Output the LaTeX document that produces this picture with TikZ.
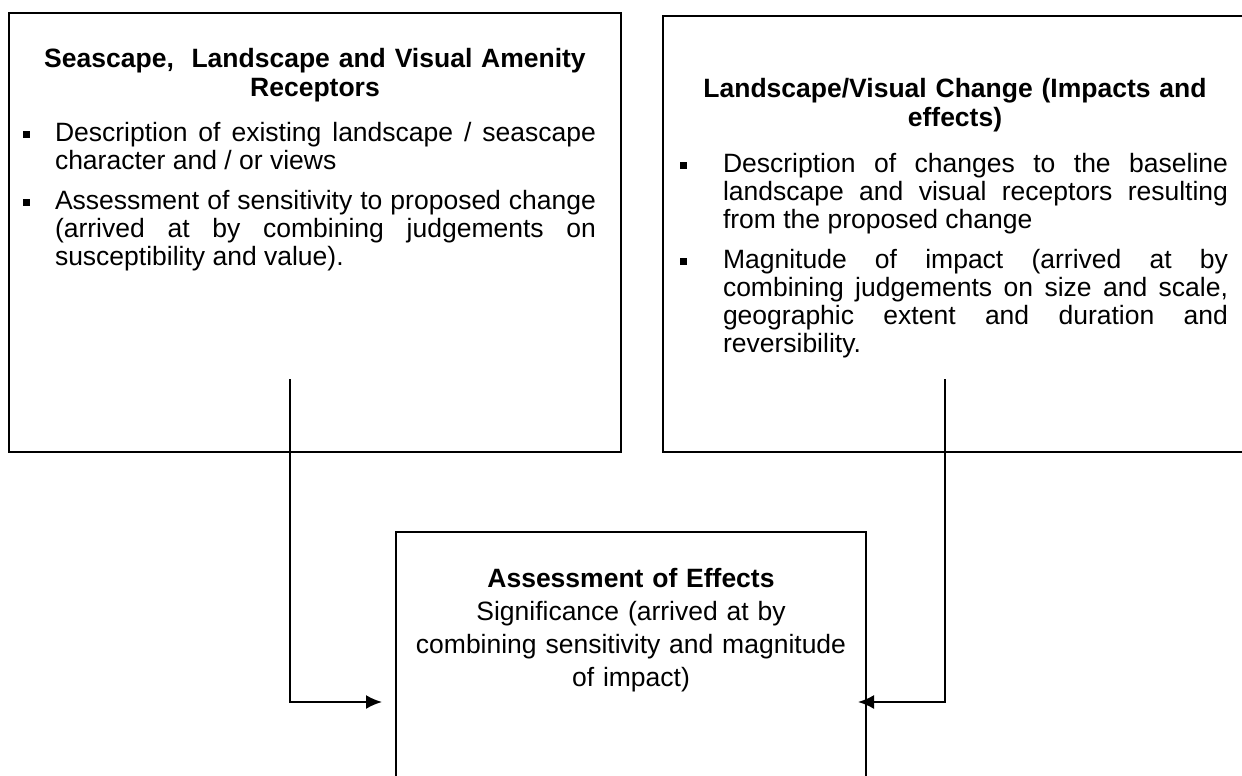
\documentclass[tikz,border=0pt]{standalone}
\usepackage{fontspec}
\setmainfont{Liberation Sans}
\usetikzlibrary{positioning,calc,arrows.meta}
\tikzset{>={Latex[length=8pt,width=7pt]}}
\hyphenpenalty=10000
\exhyphenpenalty=10000
\tolerance=9999
\newcommand{\sqitem}[1][12.5pt]{\noindent\llap{\rule[1.7pt]{3.6pt}{3.6pt}\hspace{#1}}\ignorespaces}
\tikzset{
    panel/.style={draw, line width=1.4pt, anchor=north west, inner sep=0pt, outer sep=0pt},
    heading/.style={anchor=north, align=center, inner sep=0pt, outer sep=0pt, font=\bfseries\fontsize{13.25}{14.5}\selectfont},
    bullets/.style={anchor=north west, align=justify, inner sep=0pt, outer sep=0pt, font=\fontsize{13.25}{14}\selectfont\setlength{\parskip}{6pt}},
    link/.style={line width=1pt}
}

\begin{document}
\begin{tikzpicture}[x=0.5pt,y=-0.5pt]
            \useasboundingbox (0,0) rectangle (1242,776);

            \node[panel, minimum width=306pt, minimum height=219.5pt] (recept) at (9,13) {};
            \node[panel, minimum width=298.5pt, minimum height=218pt] (change) at (663,16) {};
            \node[panel, minimum width=235pt, minimum height=134pt] (assess) at (396,532) {};

            \node[heading, text width=300pt] (receptH) at (315,48) {Seascape,\ \ Landscape and Visual Amenity\\Receptors};
            \node[bullets, text width=270.5pt] (receptL) at (55,122)
            {\sqitem Description of existing landscape / seascape character and / or views\par
             \sqitem Assessment of sensitivity to proposed change (arrived at by combining judgements on susceptibility and value).};

            \node[heading, text width=280pt] (changeH) at (955,78) {Landscape/Visual Change (Impacts and\\effects)};
            \node[bullets, text width=252.5pt] (changeL) at (723,153)
            {\sqitem[18pt] Description of changes to the baseline landscape and visual receptors resulting from the proposed change\par
             \sqitem[18pt] Magnitude of impact (arrived at by\linebreak combining judgements on size and scale,\linebreak geographic extent and duration and\linebreak reversibility.};

            \node[heading, text width=230pt, font=\fontsize{13.25}{16.5}\selectfont] (assessT) at (631,568)
            {\textbf{Assessment of Effects}\\Significance (arrived at by\\combining sensitivity and magnitude\\of impact)};

            \coordinate (receptFoot) at (290,379);
            \coordinate (changeFoot) at (945,379);
            \coordinate (assessInL) at (382,702);
            \coordinate (assessInR) at (858,702);

            \draw[link,->] (receptFoot) |- (assessInL);
            \draw[link,->] (changeFoot) |- (assessInR);
\end{tikzpicture}
\end{document}
